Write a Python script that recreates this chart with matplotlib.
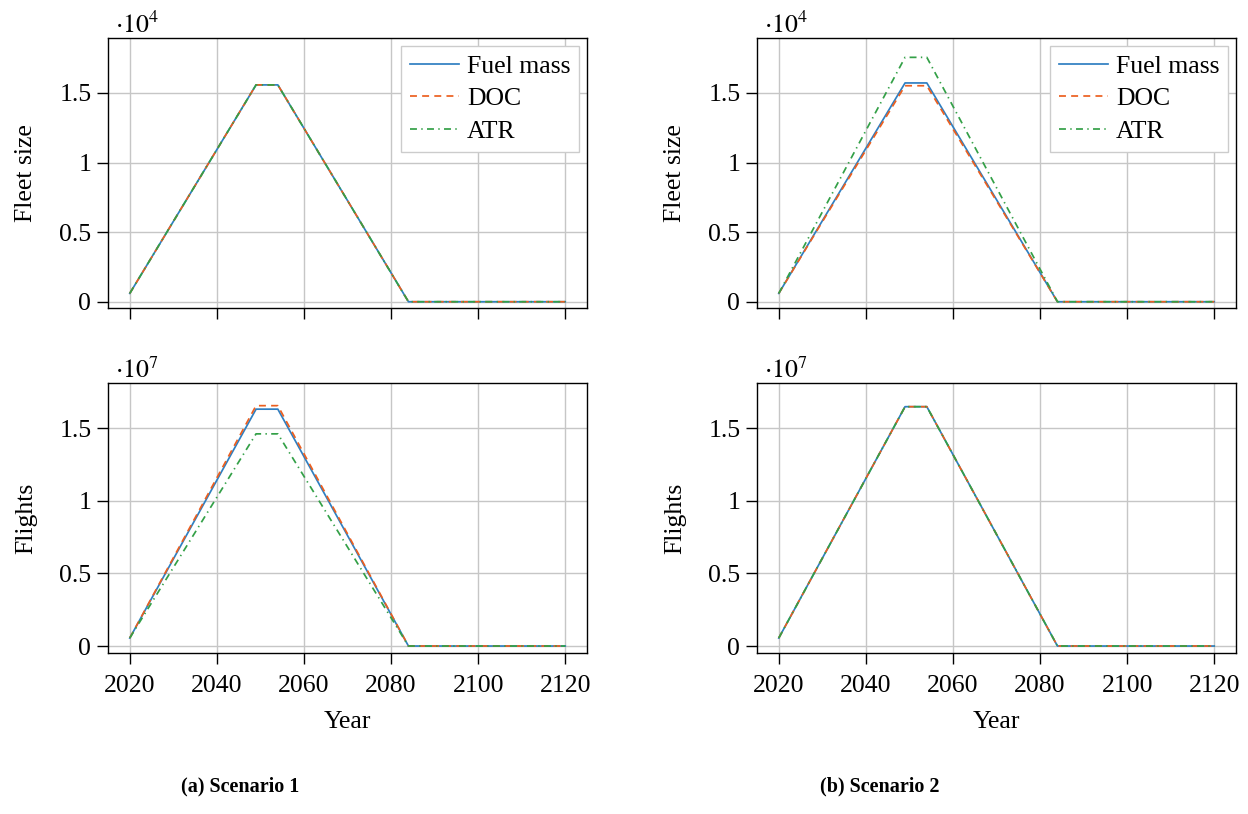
#!/usr/bin/env python3
import matplotlib
matplotlib.use('Agg')
import matplotlib.pyplot as plt
from matplotlib.ticker import FuncFormatter, MultipleLocator

# breakpoints of the piecewise fleet / flight trajectories
years = [2020, 2049, 2054, 2084, 2120]

series_names = ['Fuel mass', 'DOC', 'ATR']

# Scenario 1
s1_fleet = {
    'Fuel mass': [600, 15580, 15580, 0, 0],
    'DOC': [600, 15580, 15580, 0, 0],
    'ATR': [600, 15580, 15580, 0, 0],
}
s1_flights = {
    'Fuel mass': [5.5e5, 1.63e7, 1.63e7, 0, 0],
    'DOC': [5.5e5, 1.654e7, 1.654e7, 0, 0],
    'ATR': [5.5e5, 1.46e7, 1.46e7, 0, 0],
}

# Scenario 2
s2_fleet = {
    'Fuel mass': [600, 15720, 15720, 0, 0],
    'DOC': [600, 15520, 15520, 0, 0],
    'ATR': [600, 17560, 17560, 0, 0],
}
s2_flights = {
    'Fuel mass': [5.5e5, 1.647e7, 1.647e7, 0, 0],
    'DOC': [5.5e5, 1.647e7, 1.647e7, 0, 0],
    'ATR': [5.5e5, 1.647e7, 1.647e7, 0, 0],
}

captions = ['(a) Scenario 1', '(b) Scenario 2']

colors = {'Fuel mass': '#2f7fc1', 'DOC': '#ec5f1f', 'ATR': '#33a047'}
styles = {'Fuel mass': '-', 'DOC': (0, (4, 3)), 'ATR': (0, (4, 2.5, 0.8, 2.5))}

plt.rcParams['font.family'] = ['Liberation Serif', 'DejaVu Serif']
plt.rcParams['mathtext.fontset'] = 'stix'
FS = 18.5

fig = plt.figure(figsize=(12.48, 8.14), dpi=100)

W, H = 1248.0, 814.0
col_left = [108, 757]
col_w = 479
row_top = [38, 383]
row_h = 270


def style_axis(ax, scale, exp):
    ax.set_xlim(2015, 2125)
    ax.xaxis.set_major_locator(MultipleLocator(20))
    ax.yaxis.set_major_locator(MultipleLocator(0.5 * scale))
    ax.yaxis.set_major_formatter(FuncFormatter(lambda v, p: f'{v / scale:g}'))
    ax.grid(True, color='#c6c6c6', linewidth=1.0)
    ax.set_axisbelow(True)
    ax.tick_params(direction='out', length=8, width=1.0, labelsize=FS, pad=4)
    ax.tick_params(axis='x', pad=8)
    for sp in ax.spines.values():
        sp.set_linewidth(1.0)
    ax.text(0.014, 1.0, r'$\cdot 10^{%d}$' % exp, transform=ax.transAxes,
            fontsize=FS, ha='left', va='bottom')


panels = [
    [(s1_fleet, 'Fleet size', 1e4, 4, (-450, 18950)),
     (s1_flights, 'Flights', 1e7, 7, (-0.048e7, 1.81e7))],
    [(s2_fleet, 'Fleet size', 1e4, 4, (-450, 18950)),
     (s2_flights, 'Flights', 1e7, 7, (-0.048e7, 1.81e7))],
]

for c in range(2):
    for r in range(2):
        data, ylabel, scale, exp, ylim = panels[c][r]
        ax = fig.add_axes([col_left[c] / W, 1 - (row_top[r] + row_h) / H,
                           col_w / W, row_h / H])
        for name in series_names:
            ax.plot(years, data[name], color=colors[name], linestyle=styles[name],
                    linewidth=1.25, label=name)
        style_axis(ax, scale, exp)
        ax.set_ylim(*ylim)
        ax.set_ylabel(ylabel, fontsize=FS, labelpad=16)
        if r == 0:
            ax.tick_params(labelbottom=False)
            leg = ax.legend(loc='upper right', fontsize=FS, fancybox=False,
                            framealpha=1, edgecolor='#cccccc', handlelength=1.9,
                            handletextpad=0.3, labelspacing=0.38, borderpad=0.35,
                            borderaxespad=0.3)
            leg.get_frame().set_linewidth(1.0)
        else:
            ax.set_xlabel('Year', fontsize=FS, labelpad=10)

fig.text(240 / W, 1 - 786 / H, captions[0], fontsize=14.5, fontweight='bold',
         ha='center', va='center')
fig.text(880 / W, 1 - 786 / H, captions[1], fontsize=14.5, fontweight='bold',
         ha='center', va='center')

fig.savefig('out.png', dpi=100)
